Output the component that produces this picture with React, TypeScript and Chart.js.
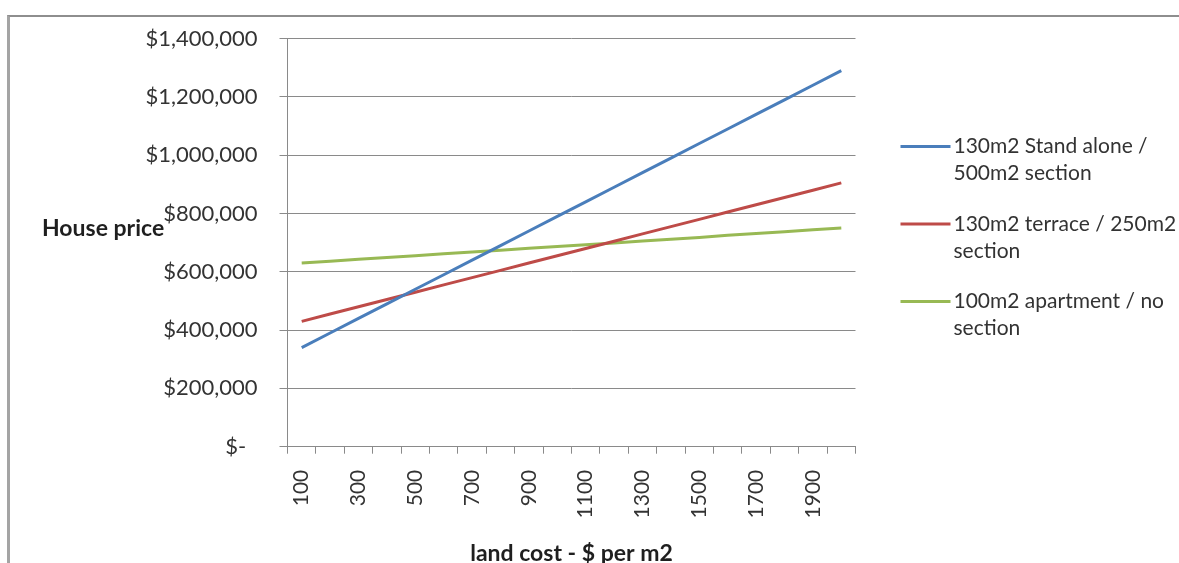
import React, { useEffect, useRef } from 'react';
import { Chart, registerables } from 'chart.js';

Chart.register(...registerables);

// Land cost per m2 (x categories)
const landCosts = ['100', '200', '300', '400', '500', '600', '700', '800', '900', '1000',
  '1100', '1200', '1300', '1400', '1500', '1600', '1700', '1800', '1900', '2000'];

// House prices for each housing type
const standAlone = [340000, 390000, 440000, 490000, 540000, 590000, 640000, 690000, 740000, 790000,
  840000, 890000, 940000, 990000, 1040000, 1090000, 1140000, 1190000, 1240000, 1290000];
const terrace = [430000, 455000, 480000, 505000, 530000, 555000, 580000, 605000, 630000, 655000,
  680000, 705000, 730000, 755000, 780000, 805000, 830000, 855000, 880000, 905000];
const apartment = [630000, 636000, 643000, 649000, 655000, 662000, 668000, 674000, 681000, 687000,
  693000, 699000, 706000, 712000, 718000, 725000, 731000, 737000, 744000, 750000];

const seriesLabels = [
  ['130m2 Stand alone /', '500m2 section'],
  ['130m2 terrace / 250m2', 'section'],
  ['100m2 apartment / no', 'section'],
];
const seriesColors = ['#4A7EBB', '#BE4B48', '#98B954'];

const yMax = 1400000;
const yStep = 200000;
const yAxisTitle = 'House price';
const xAxisTitle = 'land cost - $ per m2';

const FONT = 'Lato, "Open Sans", sans-serif';
const TEXT = '#333333';
const GRID = '#8a8a8a';

// Horizontal y-axis title and a two-line legend to the right of the plot
const sideText = {
  id: 'sideText',
  afterDraw(chart: any) {
    const { ctx, chartArea } = chart;
    ctx.save();
    ctx.font = `bold 23px ${FONT}`;
    ctx.fillStyle = '#1f1f1f';
    ctx.textAlign = 'left';
    ctx.textBaseline = 'middle';
    ctx.fillText(yAxisTitle, 42, 229);

    const x0 = chartArea.right + 45;
    chart.data.datasets.forEach((ds: any, i: number) => {
      const y = chartArea.top + 108 + i * 77.5;
      ctx.strokeStyle = ds.borderColor;
      ctx.lineWidth = 3;
      ctx.beginPath();
      ctx.moveTo(x0, y);
      ctx.lineTo(x0 + 50, y);
      ctx.stroke();
      ctx.font = `21px ${FONT}`;
      ctx.fillStyle = TEXT;
      seriesLabels[i].forEach((line, j) => {
        ctx.fillText(line, x0 + 53, y + j * 27);
      });
    });
    ctx.restore();
  },
};

export default function App() {
  const canvasRef = useRef<HTMLCanvasElement>(null);

  useEffect(() => {
    const canvas = canvasRef.current;
    if (!canvas) return;
    const series = [standAlone, terrace, apartment];
    const chart = new Chart(canvas, {
      type: 'line',
      data: {
        labels: landCosts,
        datasets: series.map((data, i) => ({
          label: seriesLabels[i].join(' '),
          data,
          borderColor: seriesColors[i],
          backgroundColor: seriesColors[i],
          borderWidth: 3,
          pointRadius: 0,
          tension: 0,
          fill: false,
        })),
      },
      options: {
        responsive: false,
        animation: false,
        devicePixelRatio: 1,
        layout: { padding: { top: 38.6, right: 323.5, left: 0, bottom: 0 } },
        plugins: {
          legend: { display: false },
          tooltip: { enabled: false },
        },
        scales: {
          x: {
            type: 'category',
            offset: true,
            grid: {
              offset: true,
              drawOnChartArea: false,
              drawTicks: true,
              tickLength: 7,
              color: GRID,
            },
            border: { color: GRID, width: 1 },
            ticks: {
              autoSkip: false,
              minRotation: 90,
              maxRotation: 90,
              padding: 16,
              color: TEXT,
              font: { family: FONT, size: 21 },
              callback: (_v: any, idx: number) => (idx % 2 === 0 ? landCosts[idx] : ''),
            },
            title: {
              display: true,
              text: xAxisTitle,
              color: '#1f1f1f',
              font: { family: FONT, size: 23, weight: 'bold', lineHeight: 0.8 },
              padding: { top: 0, bottom: 0 },
            },
            afterFit: (scale: any) => {
              scale.height = 116.3;
            },
          },
          y: {
            min: 0,
            max: yMax,
            grid: {
              color: GRID,
              lineWidth: 1,
              tickLength: 8,
              drawTicks: true,
            },
            border: { color: GRID, width: 1 },
            ticks: {
              stepSize: yStep,
              padding: 22,
              color: TEXT,
              font: { family: FONT, size: 22 },
              callback: (v: any) => (Number(v) === 0 ? '$-  ' : '$' + Number(v).toLocaleString('en-US')),
            },
            afterFit: (scale: any) => {
              scale.width = 287.5;
            },
          },
        },
      },
      plugins: [sideText],
    });
    return () => chart.destroy();
  }, []);

  return (
    <div style={{ position: 'fixed', left: 0, top: 0, width: 1179, height: 563, overflow: 'hidden', background: '#fff' }}>
      <div
        style={{
          position: 'absolute',
          left: 7,
          top: 15,
          width: 1200,
          height: 600,
          borderTop: '2px solid #8e8e8e',
          borderLeft: '3px solid #a4a4a4',
        }}
      />
      <canvas
        ref={canvasRef}
        width={1179}
        height={563}
        style={{ position: 'absolute', left: 0, top: 0, width: 1179, height: 563 }}
      />
    </div>
  );
}
